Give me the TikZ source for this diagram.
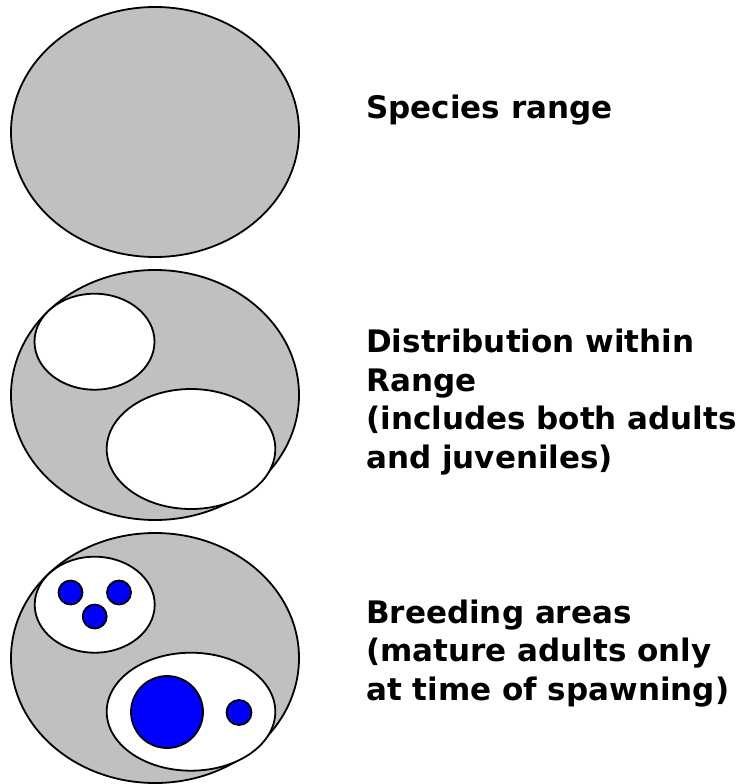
\documentclass[tikz,border=0pt]{standalone}
\usepackage{fontspec}
\setmainfont{DejaVu Sans}
\usetikzlibrary{shapes.geometric, positioning}
\definecolor{rangegray}{RGB}{192,192,192}
\definecolor{spawnblue}{RGB}{0,0,255}

\begin{document}
\begin{tikzpicture}[
    x=1pt, y=-1pt,
    rangezone/.style={ellipse, draw, line width=1.8pt, fill=rangegray, inner sep=0pt, minimum width=288pt, minimum height=250pt},
    patch/.style={ellipse, draw, line width=1.8pt, fill=white, inner sep=0pt},
    spawn/.style={circle, draw, line width=1.8pt, fill=spawnblue, inner sep=0pt},
    caption/.style={anchor=base west, align=left, inner sep=0pt, font=\fontsize{31}{38.5}\selectfont\bfseries},
]
\useasboundingbox (0,0) rectangle (752,784);

% Species range
\node[rangezone] (range1) at (155,132) {};
\node[caption] (lab1) at (366,118.3) {Species range};

% Distribution within range (anchored at the last line)
\node[rangezone] (range2) at (155,395) {};
\node[patch, minimum width=120pt, minimum height=96pt] (dist2a) at (94.5,341.7) {};
\node[patch, minimum width=168.6pt, minimum height=120pt] (dist2b) at (191,449) {};
\node[caption] (lab2) at (366,468) {Distribution within\\Range\\(includes both adults\\and juveniles)};

% Breeding areas
\node[rangezone] (range3) at (155,658) {};
\node[patch, minimum width=120pt, minimum height=96pt] (dist3a) at (94.7,604.7) {};
\node[patch, minimum width=168.6pt, minimum height=118pt] (dist3b) at (191,711.7) {};
\node[spawn, minimum size=24pt] (dotA) at (70.5,592.5) {};
\node[spawn, minimum size=24pt] (dotB) at (119,592.5) {};
\node[spawn, minimum size=24pt] (dotC) at (94.7,616.5) {};
\node[spawn, minimum size=72pt] (dotD) at (167,712) {};
\node[spawn, minimum size=25pt] (dotE) at (239,712.5) {};
\node[caption] (lab3) at (366,700) {Breeding areas\\(mature adults only\\at time of spawning)};
\end{tikzpicture}
\end{document}
